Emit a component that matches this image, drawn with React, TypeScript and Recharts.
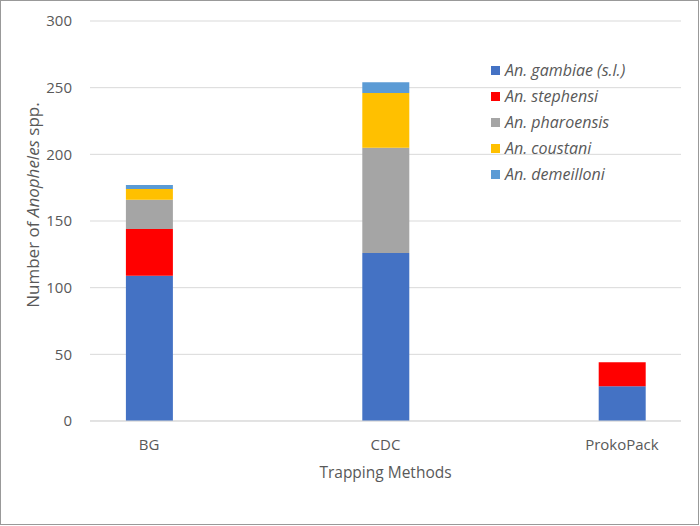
import { BarChart, Bar, XAxis, YAxis, CartesianGrid, Legend } from 'recharts';

const categories = ['BG', 'CDC', 'ProkoPack'];
const gambiae = [109, 126, 26];
const stephensi = [35, 0, 18];
const pharoensis = [22, 79, 0];
const coustani = [8, 41, 0];
const demeilloni = [3, 8, 0];
const yTicks = [0, 50, 100, 150, 200, 250, 300];

const series = [
  { key: 'gambiae', name: 'An. gambiae (s.l.)', color: '#4472C4', values: gambiae },
  { key: 'stephensi', name: 'An. stephensi', color: '#FF0000', values: stephensi },
  { key: 'pharoensis', name: 'An. pharoensis', color: '#A5A5A5', values: pharoensis },
  { key: 'coustani', name: 'An. coustani', color: '#FFC000', values: coustani },
  { key: 'demeilloni', name: 'An. demeilloni', color: '#5B9BD5', values: demeilloni },
];

// numeric x so the bars can sit at Excel's spacing
const chartData = categories.map((name, i) => {
  const row: Record<string, number | string> = { x: i, name };
  series.forEach(s => {
    row[s.key] = s.values[i];
  });
  return row;
});

const FONT = '"Open Sans", Lato, sans-serif';
const TEXT = '#595959';

function YTitle(props: any) {
  const { viewBox } = props;
  const cx = viewBox.x + 2;
  const cy = viewBox.y + viewBox.height / 2 - 16;
  return (
    <text
      x={cx}
      y={cy}
      transform={`rotate(-90, ${cx}, ${cy})`}
      textAnchor="middle"
      dominantBaseline="central"
      fill={TEXT}
      fontSize={17}
      fontFamily={FONT}
    >
      Number of <tspan fontStyle="italic">Anopheles</tspan> spp.
    </text>
  );
}

function XTitle(props: any) {
  const { viewBox } = props;
  return (
    <text
      x={viewBox.x + viewBox.width / 2}
      y={viewBox.y + 57}
      textAnchor="middle"
      fill={TEXT}
      fontSize={15.5}
      fontFamily={FONT}
    >
      Trapping Methods
    </text>
  );
}

function SpeciesLegend() {
  return (
    <div style={{ fontFamily: FONT }}>
      {series.map(s => (
        <div key={s.key} style={{ display: 'flex', alignItems: 'center', height: 26 }}>
          <span style={{ width: 9, height: 9, background: s.color, marginRight: 5, display: 'inline-block' }} />
          <span style={{ fontStyle: 'italic', fontSize: 16, color: TEXT }}>{s.name}</span>
        </div>
      ))}
    </div>
  );
}

export default function App() {
  return (
    <div style={{ position: 'absolute', left: 0, top: 0, width: 700, height: 526, background: '#fff' }}>
      <BarChart width={700} height={526} data={chartData} margin={{ top: 21, right: 19, bottom: 45, left: 30 }}>
        <CartesianGrid vertical={false} stroke="#D9D9D9" />
        <XAxis
          dataKey="x"
          type="number"
          domain={[-0.25, 2.25]}
          ticks={[0, 1, 2]}
          tickFormatter={(v: number) => categories[v]}
          height={60}
          tickSize={0}
          tickMargin={18}
          axisLine={{ stroke: '#D9D9D9' }}
          tick={{ fill: TEXT, fontSize: 15, fontFamily: FONT }}
          label={<XTitle />}
        />
        <YAxis
          domain={[0, 300]}
          ticks={yTicks}
          width={60}
          tickSize={0}
          tickMargin={18}
          axisLine={false}
          tick={{ fill: TEXT, fontSize: 15, fontFamily: FONT }}
          label={<YTitle />}
        />
        <Legend
          layout="horizontal"
          verticalAlign="middle"
          align="center"
          wrapperStyle={{ left: 491, top: 57, width: 205, height: 130 }}
          content={<SpeciesLegend />}
        />
        {series.map(s => (
          <Bar
            key={s.key}
            dataKey={s.key}
            name={s.name}
            stackId="a"
            fill={s.color}
            barSize={47}
            isAnimationActive={false}
          />
        ))}
      </BarChart>
      <div
        style={{
          position: 'absolute',
          left: 0,
          top: 0,
          width: 699,
          height: 525,
          border: '1px solid #999',
          boxSizing: 'border-box',
          pointerEvents: 'none',
        }}
      />
    </div>
  );
}
